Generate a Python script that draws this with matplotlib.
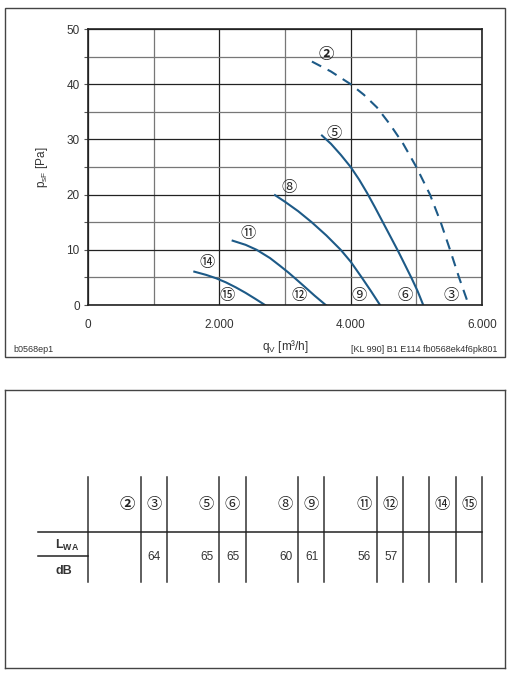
import numpy as np
import matplotlib.pyplot as plt
from matplotlib.patches import Rectangle

plt.rcParams['font.family'] = ['Liberation Sans', 'DejaVu Sans']
CIRC = ['Noto Sans CJK JP', 'DejaVu Sans']

# fan curves, q_V [m3/h] vs p_sF [Pa]
q2 = [3410, 3700, 4000, 4200, 4400, 4600, 4800, 5000, 5208, 5371, 5513, 5650, 5780]
p2 = [44.1, 42.3, 40.0, 38.1, 35.8, 32.7, 29.2, 25.0, 20.0, 15.0, 10.0, 5.0, 0.6]
q5 = [3563, 3700, 3850, 4000, 4130, 4250, 4370, 4490, 4610, 4725, 4830, 4930, 5020, 5105]
p5 = [30.7, 29.2, 27.2, 25.0, 22.7, 20.3, 17.7, 15.0, 12.3, 9.7, 7.2, 4.8, 2.5, 0.0]
q8 = [2848, 3000, 3200, 3406, 3630, 3848, 4000, 4168, 4310, 4447]
p8 = [19.9, 18.7, 17.0, 15.0, 12.6, 10.0, 7.85, 5.0, 2.5, 0.0]
q11 = [2203, 2400, 2568, 2772, 2924, 3050, 3152, 3300, 3450, 3620]
p11 = [11.65, 10.9, 10.0, 8.5, 7.1, 5.9, 4.85, 3.3, 1.7, 0.0]
q14 = [1619, 1800, 1950, 2100, 2250, 2400, 2550, 2695]
p14 = [6.04, 5.45, 4.85, 4.1, 3.2, 2.2, 1.1, 0.0]

# circled labels in the chart
lab_names = ['②', '⑤', '⑧', '⑪', '⑭', '⑮', '⑫', '⑨', '⑥', '③']
lab_q = [3628, 3755, 3061, 2432, 1809, 2123, 3208, 4130, 4834, 5529]
lab_p = [45.4, 31.0, 21.3, 12.9, 7.7, 1.75, 1.75, 1.75, 1.75, 1.75]

# noise table
col_names = ['②', '③', '⑤', '⑥', '⑧', '⑨', '⑪', '⑫', '⑭', '⑮']
col_pos = [2, 3, 5, 6, 8, 9, 11, 12, 14, 15]
lwa = ['', '64', '65', '65', '60', '61', '56', '57', '', '']
col_lines = [0, 2, 3, 5, 6, 8, 9, 11, 12, 13, 14, 15]

W, H = 510, 680
fig = plt.figure(figsize=(5.1, 6.8), dpi=100)

def fx(px):
    return px / W

def fy(py):
    return 1 - py / H

# outer frame of the chart panel
fig.patches.append(Rectangle((fx(5), fy(357)), fx(500), 349 / H, transform=fig.transFigure,
                             fill=False, ec='#444444', lw=1.0))

ax = fig.add_axes([fx(88), fy(305), fx(394), 276 / H])
blue = '#1d5a87'
ax.plot(q2, p2, color=blue, lw=1.5, ls=(0, (5, 3.5)))
for q, p in [(q5, p5), (q8, p8), (q11, p11), (q14, p14)]:
    ax.plot(q, p, color=blue, lw=1.5)
for n, q, p in zip(lab_names, lab_q, lab_p):
    ax.text(q, p, n, ha='center', va='center', fontsize=11, family=CIRC,
            fontweight='bold' if n == '②' else 'normal', color='#222222')

ax.set_xlim(0, 6000)
ax.set_ylim(0, 50)
ax.set_xticks([0, 2000, 4000, 6000])
ax.set_xticklabels(['0', '2.000', '4.000', '6.000'])
ax.set_xticks([1000, 3000, 5000], minor=True)
ax.set_yticks(np.arange(0, 51, 10))
ax.set_yticks(np.arange(5, 50, 10), minor=True)
ax.grid(True, which='major', color='#222222', lw=0.9)
ax.grid(True, which='minor', color='#777777', lw=0.9)
ax.tick_params(which='both', length=3, width=0.8, color='#555555', labelsize=8.5,
               labelcolor='#333333', pad=3)
ax.tick_params(axis='x', which='both', length=0, pad=10)
for s in ax.spines.values():
    s.set_color('#222222')
    s.set_linewidth(1.2)
ax.set_xlabel('q$_\\mathregular{V}$ [m³/h]', fontsize=8.5, color='#333333', labelpad=5)
ax.set_ylabel('p$_\\mathregular{sF}$ [Pa]', fontsize=8.5, color='#333333', labelpad=12)

fig.text(fx(13), fy(350), 'b0568ep1', fontsize=6.5, color='#333333', va='center')
fig.text(fx(497), fy(350), '[KL 990] B1 E114 fb0568ek4f6pk801', fontsize=6.5,
         color='#333333', va='center', ha='right')

# table panel
cw = 394 / 15
ax2 = fig.add_axes([fx(5), fy(668), fx(500), 278 / H])
ax2.set_xlim(-83 / cw, 417 / cw)
ax2.set_ylim(668, 390)
ax2.set_xticks([])
ax2.set_yticks([])
for s in ax2.spines.values():
    s.set_color('#444444')
    s.set_linewidth(1.0)
for c in col_lines:
    ax2.plot([c, c], [477, 582], color='#333333', lw=1.1)
ax2.plot([-50 / cw, 15], [531.5, 531.5], color='#222222', lw=1.1)
ax2.plot([-50 / cw, 0], [556, 556], color='#222222', lw=1.1)
for n, c, v in zip(col_names, col_pos, lwa):
    ax2.text(c - 0.5, 504, n, ha='center', va='center', fontsize=11, family=CIRC,
             fontweight='bold' if n == '②' else 'normal', color='#222222')
    ax2.text(c - 0.47, 557, v, ha='center', va='center', fontsize=8.5, color='#333333')
ax2.text(-21 / cw, 545, 'L$_\\mathregular{WA}$', ha='center', va='center', fontsize=9,
         fontweight='bold', color='#333333')
ax2.text(-24 / cw, 571, 'dB', ha='center', va='center', fontsize=9,
         fontweight='bold', color='#333333')

fig.savefig('out.png', dpi=100)
